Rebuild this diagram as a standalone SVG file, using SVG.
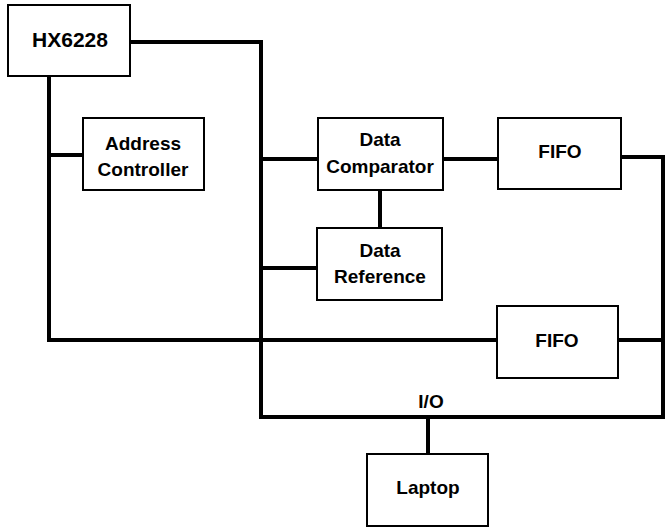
<svg xmlns="http://www.w3.org/2000/svg" width="666" height="528" viewBox="0 0 666 528">
<style>
.box{fill:#fff;stroke:#000;stroke-width:2}
.wire{fill:none;stroke:#000;stroke-width:4;stroke-linejoin:miter;stroke-linecap:square}
text{font-family:"Liberation Sans",Arial,sans-serif;font-weight:bold;font-size:19px;fill:#000;text-anchor:middle}
</style>
<rect width="666" height="528" fill="#fff"/>
<g id="connectors">
<path class="wire" d="M130 42 H261 V417 H663 V157 H621"/>
<path class="wire" d="M49 76 V340 H497"/>
<path class="wire" d="M49 155 H83"/>
<path class="wire" d="M261 159 H318"/>
<path class="wire" d="M443 159 H498"/>
<path class="wire" d="M380 190 V228"/>
<path class="wire" d="M261 268 H317"/>
<path class="wire" d="M618 340 H663"/>
<path class="wire" d="M428 417 V454"/>
</g>
<g id="hx6228"><rect class="box" x="8" y="5" width="122" height="71"/><text x="70" y="47" style="font-size:21px">HX6228</text></g>
<g id="address-controller"><rect class="box" x="83" y="118" width="121" height="72"/><text x="143" y="150">Address</text><text x="143" y="176">Controller</text></g>
<g id="data-comparator"><rect class="box" x="318" y="118" width="125" height="72"/><text x="380" y="146">Data</text><text x="380" y="173">Comparator</text></g>
<g id="fifo-top"><rect class="box" x="498" y="118" width="123" height="71"/><text x="560" y="158">FIFO</text></g>
<g id="data-reference"><rect class="box" x="317" y="228" width="125" height="72"/><text x="380" y="257">Data</text><text x="380" y="283">Reference</text></g>
<g id="fifo-bottom"><rect class="box" x="497" y="306" width="121" height="72"/><text x="557" y="347">FIFO</text></g>
<g id="io-label"><text x="431" y="408">I/O</text></g>
<g id="laptop"><rect class="box" x="367" y="454" width="121" height="72"/><text x="428" y="494">Laptop</text></g>
</svg>
